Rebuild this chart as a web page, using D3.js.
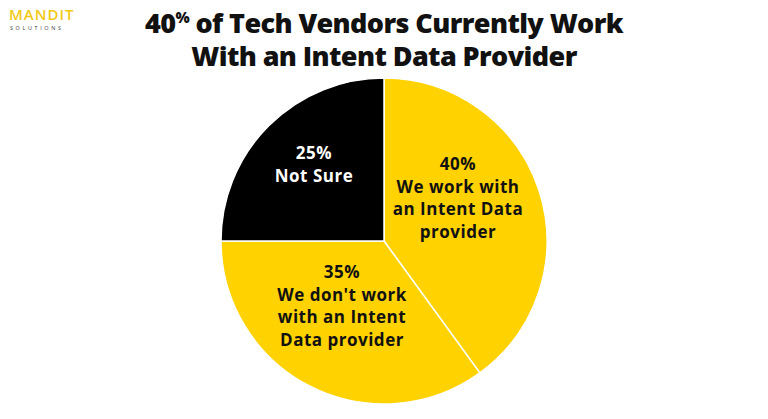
<!DOCTYPE html>
<html lang="en">
<head>
<meta charset="utf-8">
<title>Intent data pie</title>
<script src="https://cdn.jsdelivr.net/npm/d3@7"></script>
<style>
  body { margin: 0; background: #fff; }
  text { font-family: "Open Sans", sans-serif; }
</style>
</head>
<body>
<script>
// data
var categories = ["We work with an Intent Data provider", "We don't work with an Intent Data provider", "Not Sure"];
var values = [40, 35, 25];
var colors = ["#FFD200", "#FFD200", "#000000"];
var labelLines = [
  ["40%", "We work with", "an Intent Data", "provider"],
  ["35%", "We don't work", "with an Intent", "Data provider"],
  ["25%", "Not Sure"]
];
var labelPos = [[458, 170], [342, 278], [314, 159]];

var w = 768, h = 419;
var cx = 384, cy = 241, r = 163;

var svg = d3.select("body").append("svg").attr("width", w).attr("height", h);

// logo
svg.append("text").attr("x", 9).attr("y", 20)
  .attr("font-size", 15).attr("font-weight", 600).attr("fill", "#F2C916")
  .attr("letter-spacing", 1).text("MANDIT");
svg.append("text").attr("x", 10).attr("y", 30)
  .attr("font-size", 5.5).attr("fill", "#444").attr("letter-spacing", 2.6).text("SOLUTIONS");

// title
var title = svg.append("text").attr("text-anchor", "middle")
  .attr("font-size", 27).attr("font-weight", 800).attr("fill", "#111")
  .attr("letter-spacing", -0.6);
var t1 = title.append("tspan").attr("x", 384).attr("y", 33);
t1.append("tspan").text("40");
t1.append("tspan").attr("font-size", 15).attr("dy", -10).text("%");
t1.append("tspan").attr("dy", 10).text(" of Tech Vendors Currently Work");
title.append("tspan").attr("x", 384).attr("y", 66).text("With an Intent Data Provider");

var pie = d3.pie().sort(null).value(function(d) { return d; });
var arc = d3.arc().innerRadius(0).outerRadius(r);

var g = svg.append("g").attr("transform", "translate(" + cx + "," + cy + ")");
g.selectAll("path").data(pie(values)).enter().append("path")
  .attr("d", arc)
  .attr("fill", function(d, i) { return colors[i]; })
  .attr("stroke", "#fff").attr("stroke-width", 1.5);

labelLines.forEach(function(lines, i) {
  var t = svg.append("text").attr("text-anchor", "middle")
    .attr("font-size", 17).attr("font-weight", 700).attr("letter-spacing", 0.5)
    .attr("fill", i === 2 ? "#fff" : "#111");
  lines.forEach(function(s, j) {
    t.append("tspan").attr("x", labelPos[i][0]).attr("y", labelPos[i][1] + j * 22.5).text(s);
  });
});
</script>
</body>
</html>
